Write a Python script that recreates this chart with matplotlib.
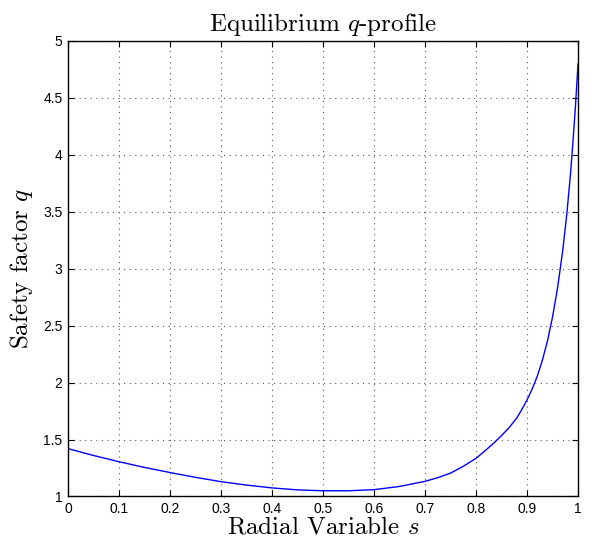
import matplotlib.pyplot as plt
import numpy as np

plt.rcParams['mathtext.fontset'] = 'cm'

# radial variable and safety factor q
s = [0, 0.05, 0.1, 0.15, 0.2, 0.25, 0.3, 0.35, 0.4, 0.45, 0.5, 0.55, 0.6,
     0.65, 0.7, 0.725, 0.75, 0.775, 0.8, 0.82, 0.835, 0.85, 0.865, 0.88,
     0.89, 0.9, 0.91, 0.92, 0.93, 0.94, 0.95, 0.96, 0.97, 0.978, 0.985,
     0.99, 0.995, 1.0]
q = [1.42, 1.36, 1.305, 1.255, 1.21, 1.168, 1.13, 1.10, 1.075, 1.058, 1.05,
     1.05, 1.06, 1.088, 1.133, 1.165, 1.205, 1.265, 1.335, 1.41, 1.47, 1.535,
     1.605, 1.69, 1.765, 1.848, 1.942, 2.055, 2.195, 2.365, 2.575, 2.835,
     3.16, 3.48, 3.82, 4.11, 4.43, 4.8]

xticks = np.round(np.arange(0, 1.01, 0.1), 1)
xticklabels = ['0', '0.1', '0.2', '0.3', '0.4', '0.5', '0.6', '0.7', '0.8', '0.9', '1']
yticks = [1, 1.5, 2, 2.5, 3, 3.5, 4, 4.5, 5]
yticklabels = ['1', '1.5', '2', '2.5', '3', '3.5', '4', '4.5', '5']

fig = plt.figure(figsize=(5.92, 5.42), dpi=100)
ax = fig.add_axes([0.1149, 0.084, 0.8615, 0.8404])

ax.plot(s, q, color='blue', linewidth=1.0)

ax.set_xlim(0, 1)
ax.set_ylim(1, 5)
ax.set_xticks(xticks)
ax.set_xticklabels(xticklabels, family='Liberation Sans', fontsize=10)
ax.set_yticks(yticks)
ax.set_yticklabels(yticklabels, family='Liberation Sans', fontsize=10)
ax.tick_params(direction='in', length=4, width=0.8, top=True, right=True,
               pad=4)
for sp in ax.spines.values():
    sp.set_linewidth(1.0)

ax.grid(True, linestyle=(0, (1, 4)), color='0.35', linewidth=0.8)

ax.set_title(r'Equilibrium $q$-profile', family='cmr10', fontsize=18, pad=7)
ax.set_xlabel(r'Radial Variable $s$', family='cmr10', fontsize=18, labelpad=0)
ax.set_ylabel(r'Safety factor $q$', family='cmr10', fontsize=18, labelpad=6)

fig.savefig('out.png', dpi=100)
